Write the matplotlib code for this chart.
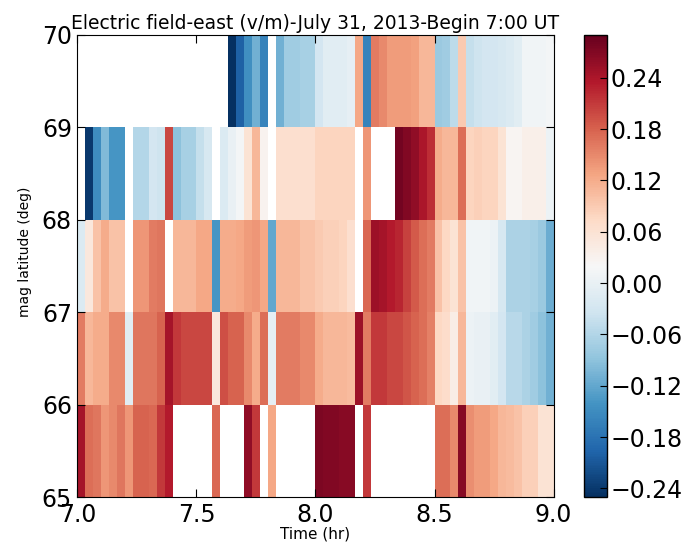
import numpy as np
import matplotlib
matplotlib.use('Agg')
import matplotlib.pyplot as plt

nan = np.nan

# time bin edges (hr) and magnetic latitude bin edges (deg)
t_edges = 7.0 + np.arange(61) / 30.0
lat_edges = [65, 66, 67, 68, 69, 70]

# electric field east (v/m), one list per latitude band, 2-min bins
e_65 = [0.245, 0.17, 0.165, 0.14, 0.15, 0.165, 0.14, 0.18, 0.18, 0.175,
        0.21, 0.235, nan, nan, nan, nan, nan, 0.175, nan, nan,
        nan, 0.26, 0.21, nan, 0.125, nan, nan, nan, nan, nan,
        0.275, 0.27, 0.27, 0.265, 0.265, nan, 0.21, nan, nan, nan,
        nan, nan, nan, nan, nan, 0.17, 0.17, 0.15, 0.265, 0.145,
        0.135, 0.135, 0.125, 0.11, 0.105, 0.10, 0.085, 0.085, 0.06, 0.06]
e_66 = [0.16, 0.11, 0.12, 0.12, 0.15, 0.15, -0.01, 0.165, 0.165, 0.165,
        0.18, 0.245, 0.21, 0.20, 0.20, 0.20, 0.20, 0.05, 0.195, 0.18,
        0.18, 0.15, 0.12, 0.17, -0.005, 0.16, 0.16, 0.16, 0.15, 0.15,
        0.12, 0.11, 0.11, 0.11, 0.105, 0.25, 0.16, 0.21, 0.21, 0.20,
        0.20, 0.19, 0.18, 0.17, 0.155, 0.075, 0.07, 0.04, 0.11, 0.005,
        0.0, 0.0, -0.01, -0.03, -0.055, -0.055, -0.065, -0.075, -0.09, -0.11]
e_67 = [-0.02, 0.05, 0.10, 0.12, 0.10, 0.10, nan, 0.14, 0.14, 0.16,
        0.165, nan, 0.11, 0.11, 0.11, 0.125, 0.125, -0.14, 0.12, 0.12,
        0.125, 0.135, 0.14, 0.125, -0.12, 0.11, 0.11, 0.11, 0.10, 0.10,
        0.09, 0.085, 0.085, 0.08, 0.065, nan, 0.175, 0.25, 0.245, 0.235,
        0.225, 0.205, 0.185, 0.17, 0.16, 0.10, 0.075, 0.06, 0.10, 0.01,
        0.01, 0.01, 0.005, -0.025, -0.065, -0.065, -0.065, -0.07, -0.08, -0.115]
e_68 = [nan, -0.24, -0.15, -0.10, -0.14, -0.14, nan, -0.06, -0.06, -0.03,
        -0.035, 0.20, -0.09, -0.07, -0.07, -0.045, -0.025, nan, -0.02, 0.0,
        0.015, 0.06, 0.11, 0.03, nan, 0.065, 0.065, 0.065, 0.065, 0.065,
        0.08, 0.08, 0.08, 0.08, 0.08, nan, 0.14, nan, nan, nan,
        0.28, 0.27, 0.26, 0.24, 0.22, 0.12, 0.11, 0.11, 0.17, 0.08,
        0.085, 0.08, 0.08, 0.06, 0.025, 0.025, 0.035, 0.035, 0.035, 0.005]
e_69 = [nan, nan, nan, nan, nan, nan, nan, nan, nan, nan,
        nan, nan, nan, nan, nan, nan, nan, nan, nan, -0.25,
        -0.20, -0.145, -0.11, -0.16, nan, -0.11, -0.075, -0.075, -0.07, -0.07,
        -0.03, -0.01, -0.01, -0.01, -0.005, 0.125, -0.16, 0.16, 0.15, 0.135,
        0.135, 0.135, 0.13, 0.11, 0.11, -0.08, -0.075, -0.05, 0.09, -0.045,
        -0.035, -0.03, -0.03, -0.025, -0.02, -0.01, 0.01, 0.01, 0.01, 0.015]

cb_ticks = [-0.24, -0.18, -0.12, -0.06, 0.00, 0.06, 0.12, 0.18, 0.24]

E = np.ma.masked_invalid(np.array([e_65, e_66, e_67, e_68, e_69]))

fig = plt.figure(figsize=(6.98, 5.45), dpi=100)
ax = fig.add_axes([0.111, 0.088, 0.682, 0.848])
mesh = ax.pcolormesh(t_edges, lat_edges, E, cmap='RdBu_r', vmin=-0.25, vmax=0.29)
ax.set_xlim(7.0, 9.0)
ax.set_ylim(65, 70)
ax.set_xticks([7.0, 7.5, 8.0, 8.5, 9.0])
ax.set_yticks([65, 66, 67, 68, 69, 70])
ax.tick_params(direction='in', top=True, right=True, labelsize=17, length=6, pad=4)
ax.set_title('Electric field-east (v/m)-July 31, 2013-Begin 7:00 UT', fontsize=13.5, pad=4)
ax.set_xlabel('Time (hr)', fontsize=11, labelpad=0)
ax.set_ylabel('mag latitude (deg)', fontsize=10)
ax.yaxis.set_label_coords(-0.095, 0.53)

cax = fig.add_axes([0.836, 0.088, 0.034, 0.848])
cb = fig.colorbar(mesh, cax=cax, ticks=cb_ticks)
cb.ax.set_yticklabels(['%.2f' % v if v >= 0 else '\u2212%.2f' % abs(v) for v in cb_ticks])
cb.ax.tick_params(direction='in', labelsize=17, length=5, pad=2)
cb.outline.set_linewidth(1.0)

fig.savefig('out.png', dpi=100)
